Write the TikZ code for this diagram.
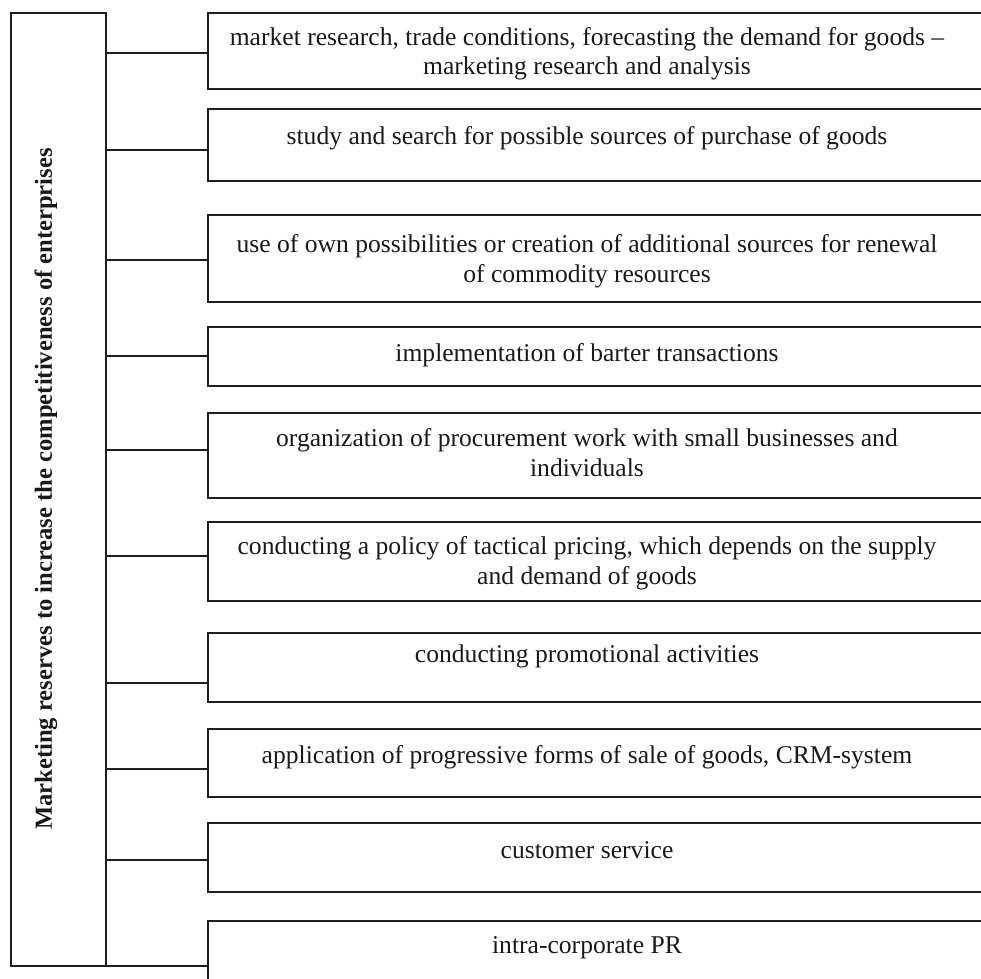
\documentclass[tikz,border=0pt]{standalone}
\usepackage{fontspec}
\setmainfont{Liberation Serif}
\begin{document}
\begin{tikzpicture}[x=1pt,y=-1pt,
  line width=1.5pt, draw=black!88,
  rbox/.style={draw, anchor=west, inner sep=0pt, outer sep=0pt, minimum width=820pt},
  mainbox/.style={draw, inner sep=0pt, outer sep=0pt, minimum width=95pt, minimum height=953pt},
  txt/.style={anchor=base, inner sep=0pt, font=\fontsize{25.6}{29}\selectfont, text=black!90},
  ttl/.style={rotate=90, inner sep=0pt, font=\fontsize{24.6}{28}\selectfont\bfseries, text=black!90},
  conn/.style={draw}
]
\useasboundingbox (0,0) rectangle (981,978);
\begin{scope}
\clip (0,0) rectangle (981,978);
\node[mainbox] (main) at (58.5,489.5) {};
\node[ttl] (title) at (46,489) {Marketing reserves to increase the competitiveness of enterprises};

\node[rbox, minimum height=76pt] (b1) at (208,51) {};
\node[rbox, minimum height=72pt] (b2) at (208,145) {};
\node[rbox, minimum height=87pt] (b3) at (208,258.5) {};
\node[rbox, minimum height=59pt] (b4) at (208,356.5) {};
\node[rbox, minimum height=85pt] (b5) at (208,455.5) {};
\node[rbox, minimum height=79pt] (b6) at (208,561.5) {};
\node[rbox, minimum height=69pt] (b7) at (208,667.5) {};
\node[rbox, minimum height=68pt] (b8) at (208,763) {};
\node[rbox, minimum height=69pt] (b9) at (208,857.5) {};
\node[rbox, minimum height=100pt] (b10) at (208,971) {};

\node[txt] (t1a) at (587,45) {market research, trade conditions, forecasting the demand for goods –};
\node[txt] (t1b) at (587,74) {marketing research and analysis};
\node[txt] (t2) at (587,144) {study and search for possible sources of purchase of goods};
\node[txt] (t3a) at (587,252) {use of own possibilities or creation of additional sources for renewal};
\node[txt] (t3b) at (587,282) {of commodity resources};
\node[txt] (t4) at (587,361) {implementation of barter transactions};
\node[txt] (t5a) at (587,446) {organization of procurement work with small businesses and};
\node[txt] (t5b) at (587,476) {individuals};
\node[txt] (t6a) at (587,554) {conducting a policy of tactical pricing, which depends on the supply};
\node[txt] (t6b) at (587,584) {and demand of goods};
\node[txt] (t7) at (587,662) {conducting promotional activities};
\node[txt] (t8) at (587,763) {application of progressive forms of sale of goods, CRM-system};
\node[txt] (t9) at (587,858) {customer service};
\node[txt] (t10) at (587,953) {intra-corporate PR};

\draw[conn] (main.east |- 0,53) -- (b1.west |- 0,53);
\draw[conn] (main.east |- 0,150) -- (b2.west |- 0,150);
\draw[conn] (main.east |- 0,260) -- (b3.west |- 0,260);
\draw[conn] (main.east |- 0,356) -- (b4.west |- 0,356);
\draw[conn] (main.east |- 0,450) -- (b5.west |- 0,450);
\draw[conn] (main.east |- 0,556) -- (b6.west |- 0,556);
\draw[conn] (main.east |- 0,683) -- (b7.west |- 0,683);
\draw[conn] (main.east |- 0,769) -- (b8.west |- 0,769);
\draw[conn] (main.east |- 0,860) -- (b9.west |- 0,860);
\draw[conn] (main.south west) -- (b10.west |- main.south);
\end{scope}
\end{tikzpicture}
\end{document}
